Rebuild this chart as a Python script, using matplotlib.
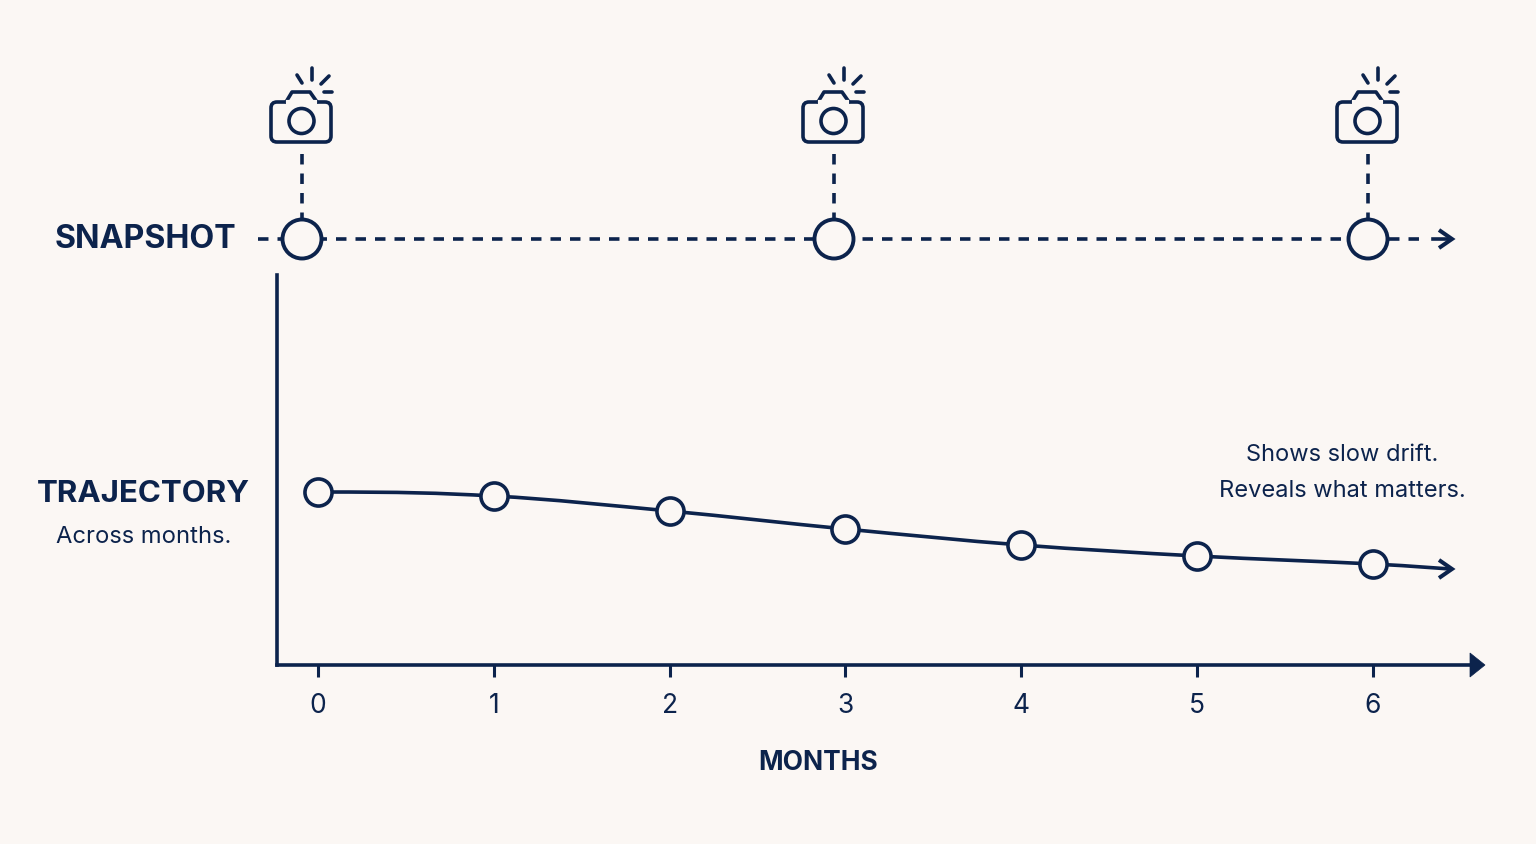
"""Snapshot vs trajectory timeline sketch."""
import matplotlib
matplotlib.use("Agg")
import matplotlib.pyplot as plt
from matplotlib.patches import Circle, FancyBboxPatch, PathPatch, Polygon
from matplotlib.path import Path

W, H = 1536, 844
NAVY = "#0c234c"
BG = "#fbf7f4"
LW = 2.6
DASH = (2.9, 2.5)

plt.rcParams["font.family"] = ["Inter", "DejaVu Sans"]

months = [0, 1, 2, 3, 4, 5, 6]
# height above the month axis, no units in the original
trajectory = [173, 169, 154, 136, 120, 109, 101]
trajectory_end = (6.44, 96)
snapshot_px = [302, 834, 1368]


def px_axes(fig):
    # overlay in reference pixels, for the icons and the snapshot row
    ax = fig.add_axes([0, 0, 1, 1], facecolor="none")
    ax.set_xlim(0, W)
    ax.set_ylim(H, 0)
    ax.set_axis_off()
    return ax


def smooth_path(xs, ys):
    # bezier through the points, flat tangent at the first one
    verts = [(xs[0], ys[0])]
    codes = [Path.MOVETO]
    n = len(xs)
    for i in range(n - 1):
        prev_i, next_i = max(i - 1, 0), min(i + 2, n - 1)
        c1 = (xs[i] + (xs[i + 1] - xs[prev_i]) / 6, ys[i] + (ys[i + 1] - ys[prev_i]) / 6)
        c2 = (xs[i + 1] - (xs[next_i] - xs[i]) / 6, ys[i + 1] - (ys[next_i] - ys[i]) / 6)
        if i == 0:
            c1 = (xs[0] + (xs[1] - xs[0]) / 2, ys[0])
        verts += [c1, c2, (xs[i + 1], ys[i + 1])]
        codes += [Path.CURVE4] * 3
    return Path(verts, codes)


def chevron(ax, tip_x, tip_y):
    ax.plot([tip_x - 13, tip_x, tip_x - 13], [tip_y - 9, tip_y, tip_y + 9],
            color=NAVY, lw=2.9, solid_joinstyle="miter", solid_capstyle="butt", zorder=4)


def camera(ax, cx):
    # cx is the lens centre, the rest of the icon hangs off it
    lw = 2.6
    hump = Path([(cx - 16, 102), (cx - 10, 92), (cx + 8, 92), (cx + 15, 102)])
    ax.add_patch(FancyBboxPatch((cx - 31, 102), 60, 40, boxstyle="round,pad=0,rounding_size=6",
                                fc=BG, ec=NAVY, lw=lw))
    ax.add_patch(PathPatch(hump, fc=BG, ec=NAVY, lw=lw, capstyle="round", joinstyle="round"))
    ax.plot([cx - 14, cx + 13], [102, 102], color=BG, lw=lw + 0.4)
    ax.add_patch(Circle((cx - 0.5, 121), 12.5, fc="none", ec=NAVY, lw=lw))
    rays = [(10, 80, 10, 68), (-5, 75, 0, 83), (19, 84, 27, 76), (22, 92, 30, 92)]
    for x0, y0, x1, y1 in rays:
        ax.plot([cx + x0, cx + x1], [y0, y1], color=NAVY, lw=lw, solid_capstyle="round")


def main():
    fig = plt.figure(figsize=(W / 100, H / 100), dpi=100, facecolor=BG)

    # main chart axes: spans px 277..1475 horizontally, 275..665 vertically
    ax = fig.add_axes([277 / W, (H - 665) / H, (1475 - 277) / W, 390 / H], facecolor="none")
    ax.set_xlim((277 - 318) / 175.83, (1475 - 318) / 175.83)
    ax.set_ylim(0, 390)
    ax.add_patch(PathPatch(smooth_path(months + [trajectory_end[0]], trajectory + [trajectory_end[1]]),
                           fc="none", ec=NAVY, lw=LW, zorder=2))
    ax.plot(months, trajectory, "o", ms=19.5, mfc=BG, mec=NAVY, mew=LW, zorder=3, clip_on=False)
    ax.set_xticks(months)
    ax.set_yticks([])
    ax.tick_params(axis="x", length=8.5, width=2.2, color=NAVY, labelcolor=NAVY, labelsize=19, pad=12)
    for s in ("top", "right"):
        ax.spines[s].set_visible(False)
    for s in ("left", "bottom"):
        ax.spines[s].set_linewidth(LW)
        ax.spines[s].set_color(NAVY)

    over = px_axes(fig)
    over.add_patch(Polygon([(1470, 653), (1485, 665), (1470, 677)], closed=True, fc=NAVY, ec=NAVY, lw=0.5))
    chevron(over, 1452, 569)

    # snapshot row
    over.plot([258, 1425], [239, 239], color=NAVY, lw=LW, dashes=DASH, zorder=1)
    over.plot([1433, 1450], [239, 239], color=NAVY, lw=LW, zorder=1)
    chevron(over, 1452, 239)
    for cx in snapshot_px:
        over.plot([cx, cx], [154, 218], color=NAVY, lw=LW, dashes=DASH, zorder=1)
        over.add_patch(Circle((cx, 239), 19.5, fc=BG, ec=NAVY, lw=2.8, zorder=3))
        camera(over, cx)

    over.text(145, 239, "SNAPSHOT", color=NAVY, fontsize=23.2, fontweight="bold", ha="center", va="center")
    over.text(143, 494, "TRAJECTORY", color=NAVY, fontsize=22.5, fontweight="bold", ha="center", va="center")
    over.text(144, 537, "Across months.", color=NAVY, fontsize=17.1, ha="center", va="center")
    over.text(1342, 455, "Shows slow drift.", color=NAVY, fontsize=17, ha="center", va="center")
    over.text(1342, 491, "Reveals what matters.", color=NAVY, fontsize=17, ha="center", va="center")
    over.text(818, 763, "MONTHS", color=NAVY, fontsize=19, fontweight="bold", ha="center", va="center")

    fig.savefig("out.png", dpi=100, facecolor=BG)


if __name__ == "__main__":
    main()
